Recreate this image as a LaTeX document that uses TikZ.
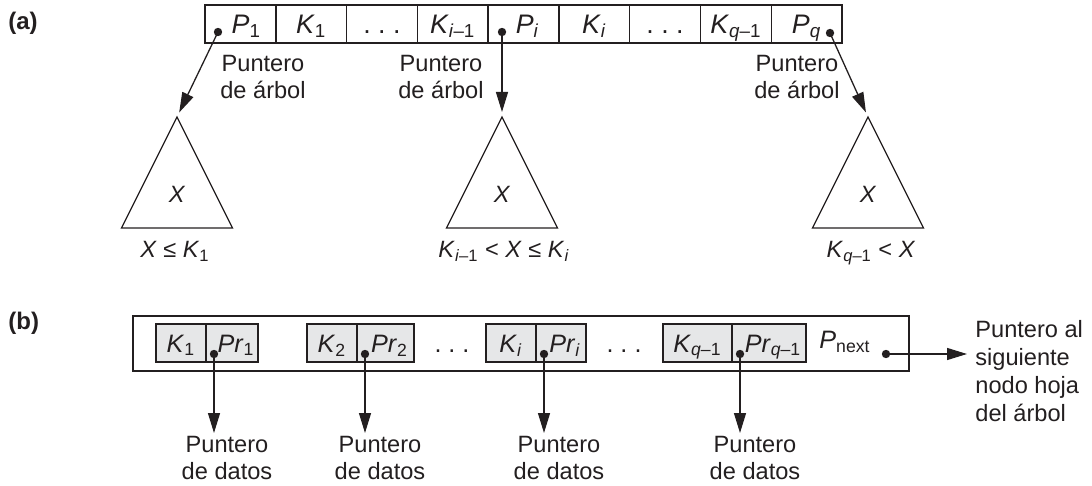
\documentclass[tikz,border=0pt]{standalone}
\usepackage{fontspec}
\setmainfont{Liberation Sans}
\usetikzlibrary{arrows.meta}
\definecolor{ink}{HTML}{231F20}
\definecolor{cellgray}{HTML}{E6E7E8}
\begin{document}
\begin{tikzpicture}[x=0.5pt,y=-0.5pt,
  txt/.style={font=\fontsize{11.8}{13.5}\selectfont, text=ink, inner sep=0pt},
  capc/.style={text height=8.45pt, text depth=0pt},
  bigc/.style={font=\fontsize{13.4}{15}\selectfont, text height=9.6pt, text depth=0pt},
  midc/.style={font=\fontsize{12.6}{15}\selectfont, text height=9pt, text depth=0pt},
  cell/.style={txt, bigc, draw=ink, line width=0.75pt, minimum height=19pt, minimum width=35.39pt},
  gcell/.style={txt, midc, draw=ink, fill=cellgray, line width=0.75pt, minimum height=19pt},
  lbl/.style={txt, align=center, anchor=north},
  ptr/.style={draw=ink, line width=0.65pt, -{Triangle[length=10pt,width=6pt]}},
  tri/.style={draw=ink, line width=0.65pt, line join=miter},
  tag/.style={txt, font=\bfseries\fontsize{12}{13}\selectfont, anchor=west}
]
\useasboundingbox (0,0) rectangle (1092,486);

% ---------- (a) ----------
\node[tag] (ta) at (8,23) {(a)};
\foreach \i/\t in {1/{\hspace{6pt}\textit{P}\textsubscript{1}},
                   2/{\textit{K}\textsubscript{1}},
                   3/{.\ .\ .},
                   4/{\textit{K}\textsubscript{\textit{i}–1}},
                   5/{\hspace{4pt}\textit{P}\textsubscript{\textit{i}}},
                   6/{\textit{K}\textsubscript{\textit{i}}},
                   7/{.\ .\ .},
                   8/{\textit{K}\textsubscript{\textit{q}–1}},
                   9/{\textit{P}\textsubscript{\textit{q}}\hspace{6pt}}}
  \node[cell] (c\i) at ({205+70.78*(\i-0.5)},24) {\t};

\coordinate (p1) at (218,32);
\coordinate (pi) at (502,32);
\coordinate (pq) at (830,33);
\fill[ink] (p1) circle (2.1pt);
\fill[ink] (pi) circle (2.1pt);
\fill[ink] (pq) circle (2.1pt);

\coordinate (apA) at (177,117);
\coordinate (apB) at (502,117);
\coordinate (apC) at (868,117);
\draw[tri] (apA) -- ++(-55.5,111) -- ++(111,0) -- cycle;
\draw[tri] (apB) -- ++(-55.5,111) -- ++(111,0) -- cycle;
\draw[tri] (apC) -- ++(-55.5,111) -- ++(111,0) -- cycle;

\draw[ptr, shorten >=2.5pt] (p1) -- (apA);
\draw[ptr, shorten >=2.5pt] (pi) -- (apB);
\draw[ptr, shorten >=2.5pt] (pq) -- (apC);

\node[lbl] (la1) at (263,55) {Puntero\\de árbol};
\node[lbl] (la2) at (441,55) {Puntero\\de árbol};
\node[lbl] (la3) at (797,55) {Puntero\\de árbol};

\node[txt, capc] (xA) at (177,194) {\textit{X}};
\node[txt, capc] (xB) at (502,194) {\textit{X}};
\node[txt, capc] (xC) at (868,194) {\textit{X}};

\node[txt, capc] (rA) at (175,249) {\textit{X} ≤ \textit{K}\textsubscript{1}};
\node[txt, capc] (rB) at (504,249) {\textit{K}\textsubscript{\textit{i}–1} < \textit{X} ≤ \textit{K}\textsubscript{\textit{i}}};
\node[txt, capc] (rC) at (871,249) {\textit{K}\textsubscript{\textit{q}–1} < \textit{X}};

% ---------- (b) ----------
\node[tag] (tb) at (8,323) {(b)};
\node[draw=ink, line width=0.85pt, minimum width=388.2pt, minimum height=27.5pt, inner sep=0pt] (leaf) at (520.9,343.2) {};

\node[gcell, minimum width=25pt]   (k1)  at (181,343)   {\textit{K}\textsubscript{1}};
\node[gcell, minimum width=26pt]   (r1)  at (232,343)   {\hspace{4pt}\textit{Pr}\textsubscript{1}};
\node[gcell, minimum width=25pt]   (k2)  at (332,343)   {\textit{K}\textsubscript{2}};
\node[gcell, minimum width=28.5pt] (r2)  at (385.5,343) {\hspace{4pt}\textit{Pr}\textsubscript{2}};
\node[txt, midc] (dd1) at (452,343) {.\ .\ .};
\node[gcell, minimum width=25pt]   (ki)  at (511,343)   {\textit{K}\textsubscript{\textit{i}}};
\node[gcell, minimum width=25pt]   (ri)  at (561,343)   {\hspace{4pt}\textit{Pr}\textsubscript{\textit{i}}};
\node[txt, midc] (dd2) at (624,343) {.\ .\ .};
\node[gcell, minimum width=34.5pt] (kq)  at (697.5,343) {\textit{K}\textsubscript{\textit{q}–1}};
\node[gcell, minimum width=37pt]   (rq)  at (769,343)   {\hspace{4pt}\textit{Pr}\textsubscript{\textit{q}–1}};
\node[txt, midc] (pnext) at (845,340) {\textit{P}\textsubscript{next}};

\coordinate (d1) at (214,354);
\coordinate (d2) at (365,354);
\coordinate (d3) at (544,354);
\coordinate (d4) at (740,354);
\coordinate (dn) at (886,354);
\foreach \d in {d1,d2,d3,d4,dn} \fill[ink] (\d) circle (2.1pt);

\coordinate (e1) at (214,433);
\coordinate (e2) at (365,433);
\coordinate (e3) at (544,433);
\coordinate (e4) at (740,433);
\coordinate (en) at (967,354);
\draw[ptr] (d1) -- (e1);
\draw[ptr] (d2) -- (e2);
\draw[ptr] (d3) -- (e3);
\draw[ptr] (d4) -- (e4);
\draw[ptr] (dn) -- (en);

\node[lbl] (lb1) at (227,436) {Puntero\\de datos};
\node[lbl] (lb2) at (380,436) {Puntero\\de datos};
\node[lbl] (lb3) at (559,436) {Puntero\\de datos};
\node[lbl] (lb4) at (755,436) {Puntero\\de datos};

\node[txt, font=\fontsize{11.8}{14}\selectfont, align=left, anchor=north west] (lnext) at (975,320) {Puntero al\\siguiente\\nodo hoja\\del árbol};
\end{tikzpicture}
\end{document}
